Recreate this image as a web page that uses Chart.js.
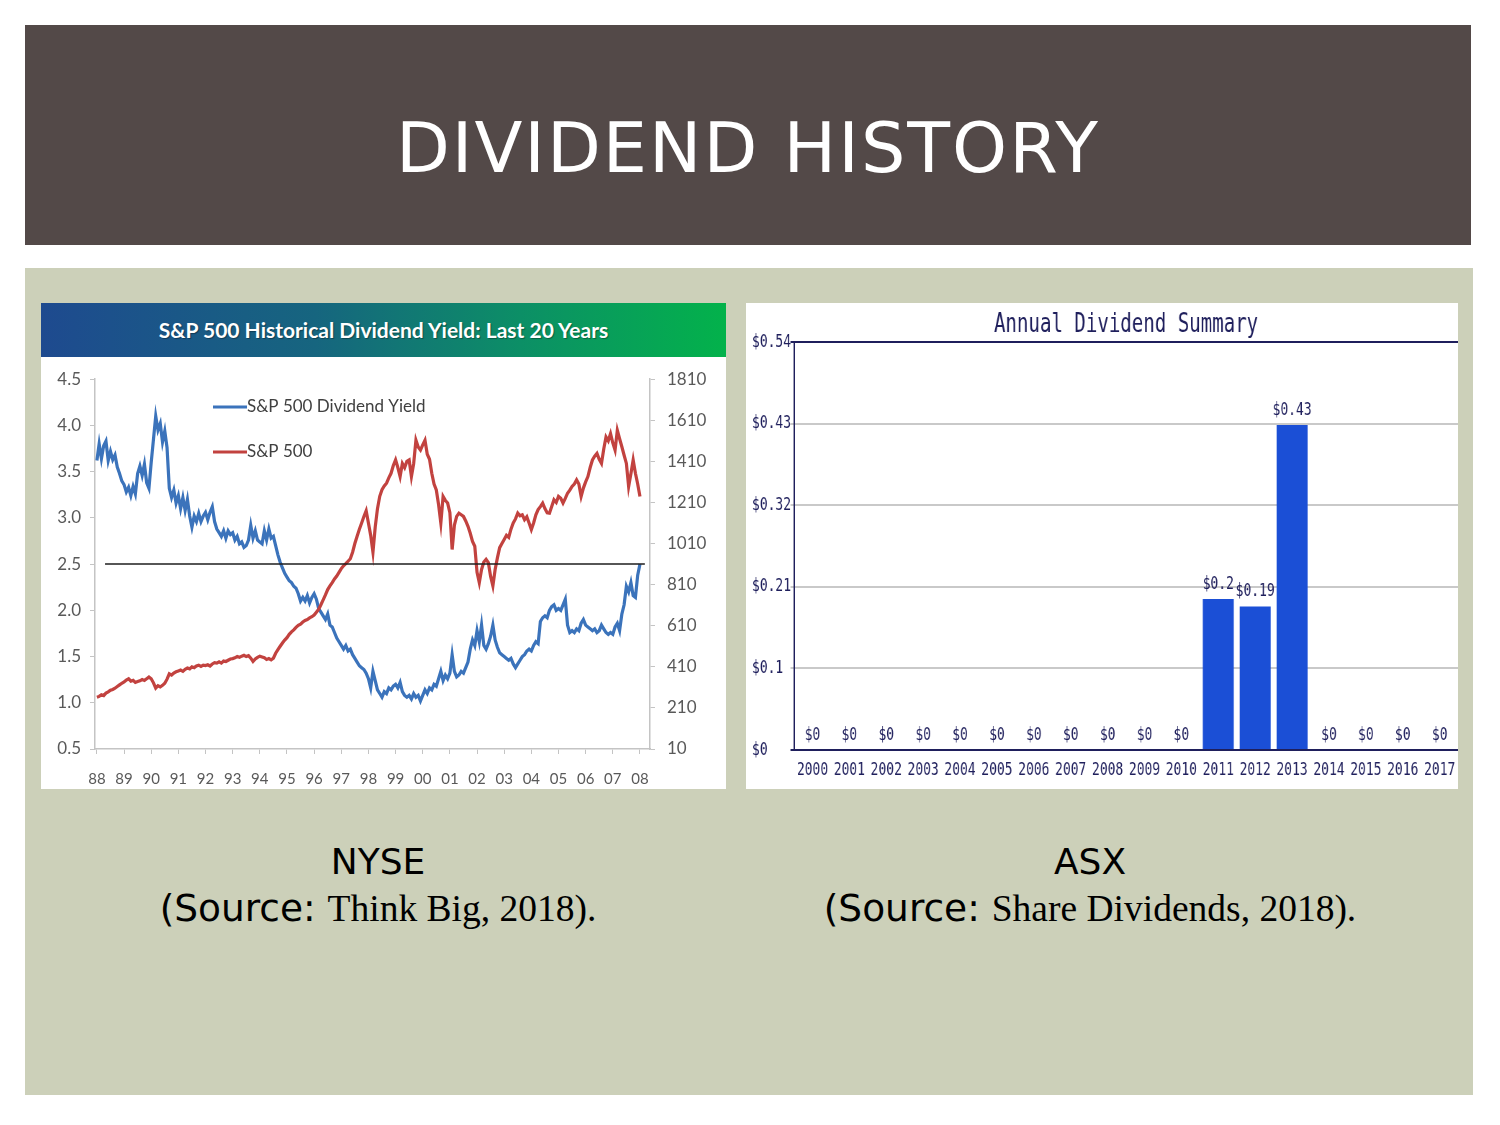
<!DOCTYPE html>
<html>
<head>
<meta charset="utf-8">
<title>Dividend History</title>
<script src="https://cdn.jsdelivr.net/npm/chart.js@4.4.0/dist/chart.umd.min.js"></script>
<style>
  body { margin:0; width:1500px; height:1125px; background:#fff; position:relative; overflow:hidden; font-family:"DejaVu Sans", sans-serif; }
  #banner { position:absolute; left:25px; top:25px; width:1446px; height:220px; background:#534948; }
  #banner h1 { margin:0; position:absolute; left:0; right:0; top:88px; text-align:center; color:#fff; font-weight:normal; font-size:70px; line-height:70px; letter-spacing:2px; }
  #panel { position:absolute; left:25px; top:268px; width:1448px; height:827px; background:#ccd0b9; }
  #spxBox { position:absolute; left:41px; top:303px; width:685px; height:486px; background:#fff; }
  #spxTitle { height:54px; background:linear-gradient(90deg,#1e4a8f 0%,#16657f 40%,#0c8f66 70%,#03b24b 100%); color:#fff; font:bold 21px Lato, sans-serif; text-align:center; line-height:54px; text-shadow:1px 1px 1px rgba(0,0,0,0.35); }
  #spxWrap { position:relative; width:685px; height:432px; }
  #divBox { position:absolute; left:746px; top:303px; width:712px; height:486px; background:#fff; overflow:hidden; }
  /* the source chart uses a tall, narrow font: draw wider and squeeze */
  #divWrap { position:absolute; left:0; top:0; width:989px; height:486px; transform:scaleX(0.72); transform-origin:0 0; }
  .cap { position:absolute; top:839px; width:640px; text-align:center; color:#000; font-size:36px; line-height:46px; }
  .cap .l2 { font-size:37.5px; }
  .cap .serif { font-family:"Liberation Serif", serif; }
</style>
</head>
<body>
<div id="banner"><h1>DIVIDEND HISTORY</h1></div>
<div id="panel"></div>
<div id="spxBox">
  <div id="spxTitle">S&amp;P 500 Historical Dividend Yield: Last 20 Years</div>
  <div id="spxWrap"><canvas id="spxChart"></canvas></div>
</div>
<div id="divBox"><div id="divWrap"><canvas id="divChart" width="989" height="486"></canvas></div></div>
<div class="cap" style="left:58px">NYSE<br><span class="l2">(Source: <span class="serif">Think Big, 2018).</span></span></div>
<div class="cap" style="left:770px">ASX<br><span class="l2">(Source: <span class="serif">Share Dividends, 2018).</span></span></div>

<script>
// ---- left chart: monthly values, Jan 1988 .. Jan 2008
var firstYear = 1988;
var yieldPct = [
  3.62, 3.80, 3.64, 3.78, 3.83, 3.62, 3.72, 3.63, 3.68, 3.55, 3.48, 3.40, // 88
  3.36, 3.28, 3.33, 3.24, 3.34, 3.26, 3.48, 3.56, 3.46, 3.58, 3.38, 3.32, // 89
  3.60, 3.85, 4.10, 3.95, 4.02, 3.82, 3.94, 3.76, 3.32, 3.22, 3.30, 3.16, // 90
  3.24, 3.10, 3.22, 3.08, 3.20, 3.02, 2.90, 3.02, 2.96, 3.05, 2.96, 3.02, // 91
  3.06, 2.98, 3.06, 3.12, 2.96, 2.88, 2.84, 2.80, 2.86, 2.78, 2.86, 2.82, // 92
  2.84, 2.76, 2.80, 2.72, 2.74, 2.68, 2.70, 2.76, 2.92, 2.78, 2.86, 2.76, // 93
  2.74, 2.72, 2.86, 2.76, 2.88, 2.78, 2.80, 2.70, 2.60, 2.52, 2.46, 2.40, // 94
  2.36, 2.32, 2.30, 2.26, 2.24, 2.18, 2.10, 2.14, 2.10, 2.16, 2.08, 2.14, // 95
  2.18, 2.12, 2.02, 1.98, 1.94, 1.90, 1.96, 1.84, 1.82, 1.76, 1.70, 1.66, // 96
  1.62, 1.58, 1.62, 1.56, 1.58, 1.52, 1.48, 1.44, 1.40, 1.38, 1.36, 1.32, // 97
  1.26, 1.16, 1.34, 1.24, 1.14, 1.10, 1.06, 1.12, 1.10, 1.16, 1.14, 1.18, // 98
  1.20, 1.16, 1.22, 1.12, 1.08, 1.06, 1.08, 1.04, 1.10, 1.06, 1.08, 1.02, // 99
  1.08, 1.14, 1.10, 1.16, 1.14, 1.20, 1.18, 1.26, 1.34, 1.24, 1.30, 1.26, // 00
  1.32, 1.52, 1.34, 1.28, 1.30, 1.34, 1.32, 1.38, 1.44, 1.58, 1.68, 1.62, // 01
  1.78, 1.66, 1.84, 1.62, 1.58, 1.64, 1.72, 1.84, 1.68, 1.60, 1.54, 1.52, // 02
  1.50, 1.48, 1.46, 1.48, 1.42, 1.38, 1.42, 1.46, 1.50, 1.52, 1.56, 1.58, // 03
  1.56, 1.62, 1.66, 1.64, 1.88, 1.92, 1.94, 1.92, 2.00, 2.04, 2.06, 2.00, // 04
  2.02, 2.00, 2.06, 2.12, 1.84, 1.76, 1.78, 1.76, 1.80, 1.78, 1.86, 1.90, // 05
  1.84, 1.82, 1.80, 1.78, 1.80, 1.76, 1.78, 1.84, 1.80, 1.76, 1.74, 1.76, // 06
  1.74, 1.82, 1.86, 1.78, 1.96, 2.06, 2.26, 2.20, 2.30, 2.16, 2.14, 2.38, // 07
  2.50                                                                    // 08
];
var spxLevel = [
  262, 266, 274, 270, 282, 288, 296, 300, 306, 314, 322, 330,
  336, 346, 352, 340, 344, 334, 338, 342, 348, 344, 352, 360,
  352, 332, 306, 318, 312, 320, 330, 350, 376, 370, 380, 386,
  390, 394, 388, 398, 404, 400, 410, 406, 414, 418, 412, 418,
  416, 420, 414, 424, 430, 428, 434, 428, 438, 436, 442, 448,
  450, 454, 460, 456, 462, 466, 460, 464, 452, 436, 448, 456,
  462, 458, 454, 446, 450, 444, 452, 476, 494, 510, 526, 540,
  552, 568, 580, 590, 602, 612, 618, 628, 636, 640, 648, 654,
  662, 676, 690, 712, 736, 760, 786, 804, 820, 838, 852, 870,
  888, 902, 912, 924, 936, 968, 1010, 1046, 1080, 1110, 1142, 1170,
  1110, 1050, 968, 1090, 1180, 1240, 1272, 1290, 1304, 1330, 1352, 1390,
  1417, 1380, 1336, 1400, 1380, 1410, 1417, 1336, 1400, 1513, 1480, 1465,
  1490, 1513, 1445, 1420, 1352, 1300, 1271, 1200, 1110, 1239, 1220, 1207,
  1160, 981, 1100, 1142, 1158, 1150, 1142, 1120, 1094, 1060, 1020, 997,
  870, 820, 884, 920, 933, 917, 850, 804, 884, 940, 990, 1010,
  1030, 1050, 1040, 1080, 1110, 1130, 1158, 1145, 1150, 1126, 1140, 1110,
  1078, 1110, 1150, 1175, 1190, 1207, 1180, 1160, 1158, 1190, 1223, 1210,
  1239, 1230, 1207, 1230, 1255, 1270, 1288, 1300, 1320, 1300, 1239, 1280,
  1310, 1336, 1380, 1417, 1435, 1449, 1420, 1400, 1470, 1529, 1510, 1545,
  1500, 1465, 1561, 1520, 1481, 1440, 1400, 1288, 1350, 1417, 1352, 1300,
  1239
];
var tickYears = [1988,1989,1990,1991,1992,1993,1994,1995,1996,1997,1998,1999,2000,2001,2002,2003,2004,2005,2006,2007,2008];
var yearLabels = ['88','89','90','91','92','93','94','95','96','97','98','99','00','01','02','03','04','05','06','07','08'];
var yieldTicks = [0.5, 1.0, 1.5, 2.0, 2.5, 3.0, 3.5, 4.0, 4.5];
var spxTicks = [10, 210, 410, 610, 810, 1010, 1210, 1410, 1610, 1810];
var refYield = 2.5;
var refFrom = 1988.3, refTo = 2008.18;

// ---- right chart
var divYears = ['2000','2001','2002','2003','2004','2005','2006','2007','2008','2009','2010','2011','2012','2013','2014','2015','2016','2017'];
var divAmounts = [0,0,0,0,0,0,0,0,0,0,0,0.2,0.19,0.43,0,0,0,0];
var divTicks = [0, 0.108, 0.216, 0.324, 0.432, 0.54];
var divTickLabels = ['$0','$0.1','$0.21','$0.32','$0.43','$0.54'];
var divTitle = 'Annual Dividend Summary';

Chart.defaults.font.family = 'Lato, "Open Sans", sans-serif';
Chart.defaults.animation = false;

var blue = '#3b73bb';
var red = '#c2423f';
var axisGrey = '#c4c4c4';
var labelGrey = '#595959';

function toPoints(arr) {
  var pts = [];
  for (var i = 0; i < arr.length; i++) {
    pts.push({ x: firstYear + i / 12, y: arr[i] });
  }
  return pts;
}

// legend sits inside the plot, two rows
var insideLegend = {
  id: 'insideLegend',
  afterDatasetsDraw: function (chart) {
    var ctx = chart.ctx;
    var rows = [chart.data.datasets[2], chart.data.datasets[1]];
    ctx.save();
    ctx.font = '17px Lato, sans-serif';
    ctx.fillStyle = '#404040';
    ctx.textBaseline = 'middle';
    for (var i = 0; i < rows.length; i++) {
      var y = 50 + i * 45;
      ctx.strokeStyle = rows[i].borderColor;
      ctx.lineWidth = 3;
      ctx.beginPath();
      ctx.moveTo(172, y);
      ctx.lineTo(206, y);
      ctx.stroke();
      ctx.fillText(rows[i].label, 206, y);
    }
    ctx.restore();
  }
};

new Chart(document.getElementById('spxChart'), {
  type: 'line',
  data: {
    datasets: [
      {
        label: 'ref',
        data: [{ x: refFrom, y: refYield }, { x: refTo, y: refYield }],
        borderColor: '#1e1e1e', borderWidth: 1.5, pointRadius: 0, yAxisID: 'y', order: 0
      },
      {
        label: 'S&P 500',
        data: toPoints(spxLevel),
        borderColor: red, borderWidth: 3.2, pointRadius: 0, yAxisID: 'y2', order: 1
      },
      {
        label: 'S&P 500 Dividend Yield',
        data: toPoints(yieldPct),
        borderColor: blue, borderWidth: 3.2, pointRadius: 0, yAxisID: 'y', order: 2
      }
    ]
  },
  options: {
    responsive: true,
    maintainAspectRatio: false,
    layout: { padding: { top: 20, left: 0, right: 0, bottom: 0 } },
    plugins: { legend: { display: false }, tooltip: { enabled: false } },
    scales: {
      x: {
        type: 'linear', min: 1987.93, max: 2008.37,
        afterBuildTicks: function (s) { s.ticks = tickYears.map(function (v) { return { value: v }; }); },
        afterFit: function (s) { s.height = 40; },
        ticks: {
          autoSkip: false, maxRotation: 0, color: labelGrey, font: { size: 15 }, padding: 16,
          callback: function (v, i) { return yearLabels[i]; }
        },
        grid: { drawOnChartArea: false, tickLength: 5, color: axisGrey },
        border: { color: axisGrey, width: 1.5 }
      },
      y: {
        position: 'left', min: 0.5, max: 4.5,
        afterBuildTicks: function (s) { s.ticks = yieldTicks.map(function (v) { return { value: v }; }); },
        afterFit: function (s) { s.width = 54; },
        ticks: { color: labelGrey, font: { size: 17 }, padding: 9, callback: function (v) { return v.toFixed(1); } },
        grid: { drawOnChartArea: false, tickLength: 5, color: axisGrey },
        border: { color: axisGrey, width: 1.5 }
      },
      y2: {
        position: 'right', min: 10, max: 1810,
        afterBuildTicks: function (s) { s.ticks = spxTicks.map(function (v) { return { value: v }; }); },
        afterFit: function (s) { s.width = 76; },
        ticks: { color: labelGrey, font: { size: 17 }, padding: 12, callback: function (v) { return String(v); } },
        grid: { drawOnChartArea: false, tickLength: 5, color: axisGrey },
        border: { color: axisGrey, width: 1.5 }
      }
    }
  },
  plugins: [insideLegend]
});

// ---- right chart (canvas is 989 wide, squeezed to 712 by css)
var navy = '#1f1f5c';
var mono = '"DejaVu Sans Mono", monospace';

var centeredTitle = {
  id: 'centeredTitle',
  afterDraw: function (chart) {
    var a = chart.chartArea;
    var ctx = chart.ctx;
    ctx.save();
    ctx.font = '26.5px ' + mono;
    ctx.fillStyle = navy;
    ctx.textAlign = 'center';
    ctx.textBaseline = 'middle';
    ctx.fillText(divTitle, (a.left + a.right) / 2, 22);
    ctx.restore();
  }
};

// value labels go under the bars, like the original (the $0.19 gets clipped by the 2013 bar)
var valueLabels = {
  id: 'valueLabels',
  beforeDatasetsDraw: function (chart) {
    var ctx = chart.ctx;
    var bars = chart.getDatasetMeta(0).data;
    ctx.save();
    ctx.font = '18px ' + mono;
    ctx.fillStyle = navy;
    ctx.textAlign = 'center';
    ctx.textBaseline = 'middle';
    for (var i = 0; i < bars.length; i++) {
      ctx.fillText('$' + divAmounts[i], bars[i].x, bars[i].y - 15);
    }
    ctx.restore();
  }
};

new Chart(document.getElementById('divChart'), {
  type: 'bar',
  data: {
    labels: divYears,
    datasets: [{
      label: 'Dividend',
      data: divAmounts,
      backgroundColor: '#1b4fd6',
      barPercentage: 0.84,
      categoryPercentage: 1
    }]
  },
  options: {
    responsive: false,
    layout: { padding: { top: 39, right: 0, left: 8.3, bottom: 0 } },
    plugins: { legend: { display: false }, tooltip: { enabled: false } },
    scales: {
      x: {
        grid: { display: false },
        border: { color: navy, width: 2 },
        afterFit: function (s) { s.height = 39; s.paddingLeft = 0; s.paddingRight = 0; },
        ticks: { color: navy, font: { family: mono, size: 18 }, padding: 2, autoSkip: false, maxRotation: 0 }
      },
      y: {
        min: 0, max: 0.54,
        afterBuildTicks: function (s) { s.ticks = divTicks.map(function (v) { return { value: v }; }); },
        afterFit: function (s) { s.width = 58.4; },
        ticks: { color: navy, font: { family: mono, size: 18 }, crossAlign: 'far',
          callback: function (v, i) { return divTickLabels[i]; } },
        grid: {
          lineWidth: 2, tickLength: 5,
          color: function (c) { return (c.tick && (c.tick.value === 0.54 || c.tick.value === 0)) ? navy : '#c9c9c9'; }
        },
        border: { color: navy, width: 2 }
      }
    }
  },
  plugins: [centeredTitle, valueLabels]
});
</script>
</body>
</html>
